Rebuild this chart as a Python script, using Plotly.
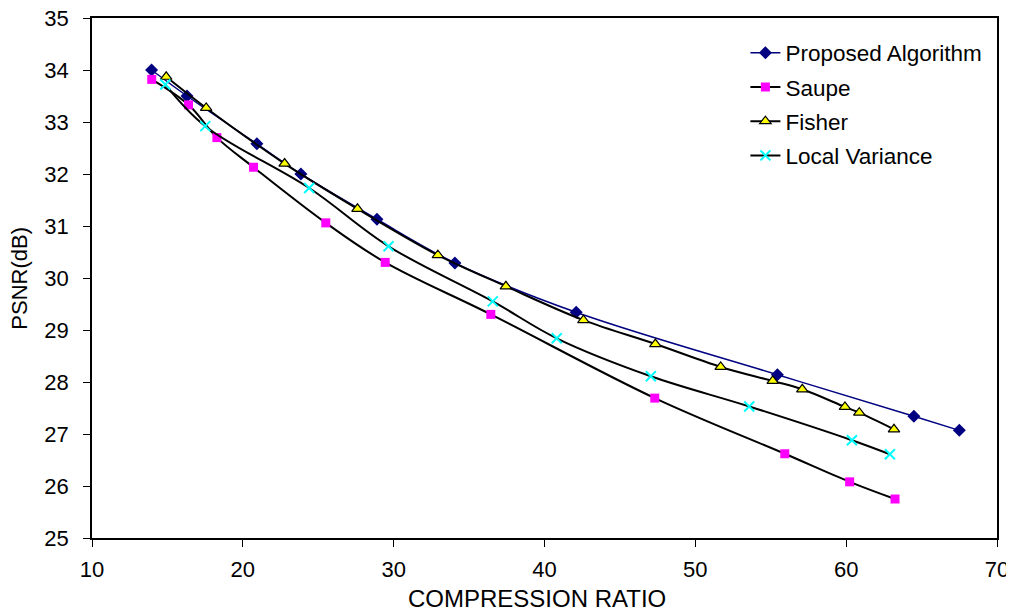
import plotly.graph_objects as go

# Data
prop_x = [13.95, 16.3, 20.93, 23.85, 28.89, 34.06, 42.1, 55.44, 64.49, 67.5]
prop_y = [34.0, 33.5, 32.58, 32.0, 31.13, 30.29, 29.34, 28.14, 27.34, 27.07]

saupe_x = [13.96, 16.4, 18.28, 20.71, 25.5, 29.44, 36.44, 47.31, 55.93, 60.23, 63.24]
saupe_y = [33.82, 33.33, 32.70, 32.13, 31.06, 30.30, 29.30, 27.69, 26.62, 26.08, 25.75]

fisher_x = [14.92, 17.57, 22.77, 27.6, 32.93, 37.44, 42.58, 47.35, 51.68, 55.13, 57.09, 59.92, 60.87, 63.17]
fisher_y = [33.87, 33.27, 32.20, 31.33, 30.44, 29.84, 29.19, 28.73, 28.29, 28.02, 27.86, 27.52, 27.41, 27.09]

lv_x = [14.86, 17.51, 24.4, 29.66, 36.57, 40.81, 47.05, 53.57, 60.38, 62.9]
lv_y = [33.72, 32.92, 31.73, 30.61, 29.55, 28.84, 28.11, 27.53, 26.88, 26.61]

x_ticks = [10, 20, 30, 40, 50, 60, 70]
y_ticks = [25, 26, 27, 28, 29, 30, 31, 32, 33, 34, 35]

FONT = "Liberation Sans, Arial, sans-serif"

fig = go.Figure()
fig.add_trace(go.Scatter(
    x=prop_x, y=prop_y, name="Proposed Algorithm", mode="lines+markers",
    line=dict(color="#000080", width=1.5, shape="spline", smoothing=1),
    marker=dict(symbol="diamond", size=10, color="#000080"),
    legendgroup="a"))
fig.add_trace(go.Scatter(
    x=saupe_x, y=saupe_y, name="Saupe", mode="lines+markers",
    line=dict(color="#000000", width=2, shape="spline", smoothing=1),
    marker=dict(symbol="square", size=9, color="#FF00FF"),
    legendgroup="b"))
fig.add_trace(go.Scatter(
    x=fisher_x, y=fisher_y, name="Fisher", mode="lines+markers",
    line=dict(color="#000000", width=2, shape="spline", smoothing=1),
    marker=dict(symbol="triangle-up", size=10, color="#FFFF00",
                line=dict(color="#000000", width=1.2)),
    legendgroup="c"))
fig.add_trace(go.Scatter(
    x=lv_x, y=lv_y, name="Local Variance", mode="lines+markers",
    line=dict(color="#000000", width=2, shape="spline", smoothing=1),
    marker=dict(symbol="x-thin", size=10, color="#00FFFF",
                line=dict(color="#00FFFF", width=2)),
    legendgroup="d"))

axis_common = dict(
    showline=True, linecolor="#000000", linewidth=1.5, mirror=True,
    ticks="outside", ticklen=7, tickcolor="#000000", tickwidth=1,
    showgrid=False, zeroline=False, automargin=False,
    ticklabeloverflow="allow",
    tickfont=dict(family=FONT, size=22, color="#000000"),
)

fig.update_layout(
    width=1006, height=605,
    margin=dict(l=84, r=17, t=10, b=75),
    paper_bgcolor="white", plot_bgcolor="white",
    font=dict(family=FONT, size=22, color="#000000"),
    xaxis=dict(range=[10, 70], tickvals=x_ticks, ticklabelstandoff=4,
               **axis_common),
    yaxis=dict(range=[25, 35], tickvals=y_ticks, ticklabelstandoff=10,
               **axis_common),
    legend=dict(x=0.722, y=0.974, xanchor="left", yanchor="top",
                bgcolor="rgba(0,0,0,0)", tracegroupgap=2,
                font=dict(family=FONT, size=22.5, color="#000000")),
    showlegend=True,
    annotations=[
        dict(text="COMPRESSION RATIO", xref="paper", yref="paper",
             x=0.492, y=-0.116, xanchor="center", yanchor="middle",
             showarrow=False, font=dict(family=FONT, size=24, color="#000000")),
        dict(text="PSNR(dB)", xref="paper", yref="paper",
             x=-0.081, y=0.5, xanchor="center", yanchor="middle", textangle=-90,
             showarrow=False, font=dict(family=FONT, size=22, color="#000000")),
    ],
)

fig.write_html("out.html")
